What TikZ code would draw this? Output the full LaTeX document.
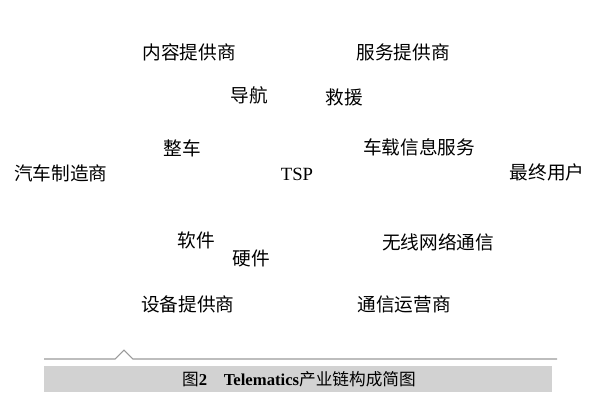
\documentclass[tikz,border=0pt]{standalone}
\usepackage{fontspec}
\setmainfont{Liberation Serif}
\newfontfamily\cjk{Noto Sans CJK SC}
\definecolor{rulegray}{HTML}{9A9A9A}
\definecolor{bargray}{HTML}{D2D2D2}
\tikzset{
  lbl/.style={inner sep=0pt, font=\fontsize{14}{16}\selectfont\cjk},
  captext/.style={inner sep=0pt, font=\fontsize{12.5}{14}\selectfont}
}
\begin{document}
\begin{tikzpicture}[x=0.75pt,y=-0.75pt]
\useasboundingbox (0,0) rectangle (594,401);
% labels
\node[lbl] (content) at (189,52) {内容提供商};
\node[lbl] (service) at (403,52) {服务提供商};
\node[lbl] (nav) at (249,95) {导航};
\node[lbl] (rescue) at (344,97) {救援};
\node[lbl] (car) at (182,148) {整车};
\node[lbl] (info) at (419,147) {车载信息服务};
\node[lbl] (maker) at (61,173) {汽车制造商};
\node[lbl, font=\fontsize{14}{16}\selectfont\rmfamily] (tsp) at (297,174) {TSP};
\node[lbl] (user) at (547,172) {最终用户};
\node[lbl] (soft) at (196,240) {软件};
\node[lbl] (hard) at (251,258) {硬件};
\node[lbl] (wireless) at (438,242) {无线网络通信};
\node[lbl] (device) at (188,304) {设备提供商};
\node[lbl] (operator) at (404,304) {通信运营商};
% caption
\fill[bargray] (44,366) rectangle (552,392);
\draw[rulegray, thick] (44,359) -- (115,359) -- (124,350) -- (133,359) -- (557,359);
\node[captext] (caption) at (299,379) {{\cjk 图}\textbf{2}\quad\textbf{Telematics}{\cjk 产业链构成简图}};
\end{tikzpicture}
\end{document}
